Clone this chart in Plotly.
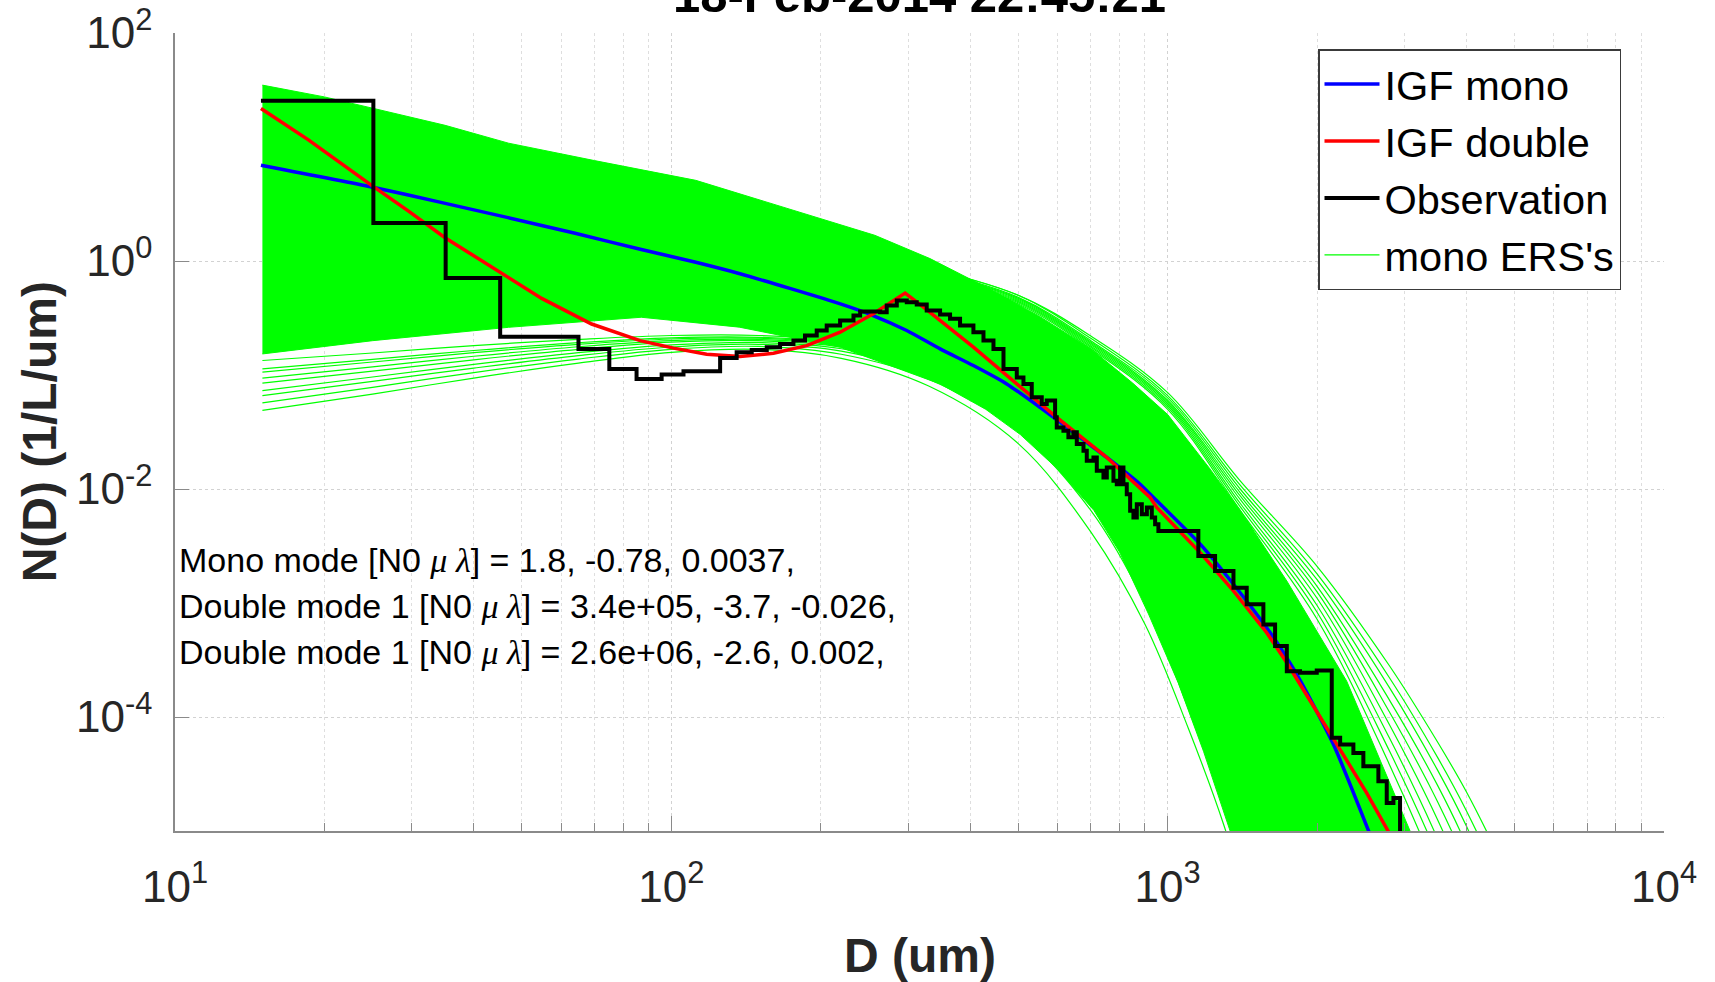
import plotly.graph_objects as go

FONT = "Liberation Sans, Arial, Helvetica, sans-serif"
GREEN = "#00ff00"

# ---------------- data ----------------
# IGF mono fit (blue)
mono_D = [14.9, 24.9, 34.5, 46.9, 64, 87, 112, 137.5, 219, 255, 298, 348, 406, 474, 553, 646,
          754, 880, 951, 1163, 1357, 1583, 1738, 1849, 2158, 2557]
mono_N = [6.92, 4.46, 3.25, 2.4, 1.75, 1.26, 0.975, 0.773, 0.421, 0.3325, 0.2455, 0.1694, 0.121,
          0.0835, 0.052, 0.0314, 0.0189, 0.011, 0.00787, 0.00328, 0.00146, 6.07e-4, 3.3e-4,
          2.1e-4, 5.73e-5, 9.3e-6]

# IGF double fit (red)
double_D = [14.9, 18.6, 24.9, 29.5, 35, 45.2, 54.8, 69.1, 86.5, 101, 117.8, 137.5, 160.6, 187.4,
            218.8, 255.3, 280.2, 295.8, 322, 406.1, 496.6, 597.8, 754.2, 921.7, 950.6, 1162.6,
            1357, 1583, 1738, 1849, 2158, 2518.6, 2806]
double_N = [21.8, 11.5, 4.6, 2.75, 1.6, 0.8, 0.47, 0.28, 0.2, 0.172, 0.152, 0.145, 0.155, 0.181,
            0.2374, 0.344, 0.45, 0.5226, 0.3937, 0.1753, 0.0835, 0.0425, 0.0189, 0.00842, 0.00689,
            0.00277, 0.001275, 5.49e-4, 2.99e-4, 1.93e-4, 6.56e-5, 2.15e-5, 9.3e-6]

# Observation (black stairs): bin left edges and values
obs_D = [14.9, 25.1, 35.1, 45.2, 65, 75, 85.1, 95.6, 105.8, 125.4, 135.4, 145.2, 155.7, 165.6,
         176.2, 185.9, 196.3, 205.6, 218.8, 232.8, 240.1, 263.4, 271.6, 284.6, 298.1, 312.2,
         327.0, 347.9, 364.4, 381.7, 406.1, 425.5, 445.7, 466.9, 496.6, 512.2, 532.3, 557.6,
         570.7, 593.2, 597.8, 616.6, 631, 645.8, 656, 676.7, 687.1, 708.7, 719.8, 742.4, 754,
         777.6, 789.7, 802, 814.5, 827.2, 840.2, 853.2, 866.6, 887, 908, 929, 943.5, 957.9,
         1153, 1246, 1357, 1443, 1559, 1646, 1738, 1848, 1997, 2141, 2226, 2367, 2479, 2658,
         2763, 2850, 2939]
obs_N = [25.4, 2.15, 0.708, 0.217, 0.169, 0.113, 0.0923, 0.1008, 0.1078, 0.1413, 0.1584, 0.1661,
         0.1753, 0.1875, 0.2006, 0.2219, 0.2455, 0.2716, 0.3006, 0.3325, 0.3606, 0.3557, 0.4072,
         0.4504, 0.4356, 0.4155, 0.368, 0.3394, 0.3109, 0.2716, 0.2374, 0.2006, 0.1694, 0.1131,
         0.095, 0.0835, 0.0637, 0.0557, 0.0596, 0.0425, 0.0347, 0.0325, 0.0284, 0.0314, 0.0248,
         0.02166, 0.0177, 0.0189, 0.01445, 0.01263, 0.01546, 0.0118, 0.01103, 0.01546, 0.01103,
         0.00901, 0.00643, 0.00562, 0.00736, 0.00601, 0.00688, 0.00562, 0.00491, 0.00429,
         0.00259, 0.00191, 0.00136, 0.000973, 0.000649, 0.000419, 0.000252, 0.000244, 0.000256,
         6.56e-5, 5.73e-5, 4.84e-5, 3.7e-5, 2.73e-5, 1.76e-5, 1.95e-5, 1e-6]

# mono ERS's: dense core of the ensemble (upper and lower edges)
ers_up_D = [15, 20, 25, 35, 47, 70, 112, 170, 257, 332, 427, 550, 700, 850, 1000, 1217, 1400,
            1738, 2295, 3079, 3800]
ers_up_N = [34.9, 27.5, 21.9, 15.5, 10.8, 7.6, 5.1, 2.9, 1.68, 1.05, 0.6, 0.33, 0.17, 0.085, 0.045,
            0.015, 0.0065, 0.00156, 2.06e-4, 1e-5, 1e-6]
ers_lo_D = [15, 25, 47, 87, 137, 219, 348, 430, 505, 600, 710, 800, 915, 1050, 1181, 1336, 1450]
ers_lo_N = [0.153, 0.2, 0.262, 0.321, 0.263, 0.175, 0.0835, 0.05, 0.03, 0.015, 0.0065, 0.0028,
            8e-4, 2e-4, 5e-5, 1e-5, 1e-6]

# mono ERS's: separate members at the lower-left edge
ers_fan_D = [15, 25, 40, 65, 100, 150, 220, 330, 500, 700, 900, 1100, 1300, 1500]
ers_fan = [
    [0.049, 0.068, 0.094, 0.127, 0.158, 0.168, 0.14, 0.08, 0.025, 0.0042, 6.5e-4, 8e-5, 1.1e-5, 1.3e-6],
    [0.057, 0.078, 0.105, 0.138, 0.168, 0.178, 0.152, 0.092, 0.032, 0.0065, 1.0e-3, 1.2e-4, 1.6e-5, 2e-6],
    [0.066, 0.088, 0.115, 0.148, 0.176, 0.186, 0.162, 0.1, 0.036, 0.008, 1.3e-3, 1.6e-4, 2e-5, 2.5e-6],
    [0.073, 0.096, 0.124, 0.157, 0.184, 0.193, 0.17, 0.108, 0.04, 0.0095, 1.6e-3, 2e-4, 2.5e-5, 3e-6],
    [0.085, 0.108, 0.136, 0.168, 0.194, 0.2, 0.176, 0.114, 0.044, 0.011, 2e-3, 2.6e-4, 3e-5, 4e-6],
    [0.094, 0.118, 0.146, 0.177, 0.2, 0.205, 0.182, 0.12, 0.048, 0.0125, 2.4e-3, 3.2e-4, 4e-5, 5e-6],
    [0.106, 0.13, 0.157, 0.186, 0.207, 0.21, 0.186, 0.125, 0.051, 0.014, 2.8e-3, 4e-4, 5e-5, 6e-6],
    [0.113, 0.137, 0.164, 0.192, 0.212, 0.214, 0.19, 0.13, 0.054, 0.015, 3.1e-3, 4.5e-4, 5.5e-5, 7e-6],
    [0.134, 0.156, 0.181, 0.205, 0.222, 0.222, 0.197, 0.136, 0.058, 0.017, 3.6e-3, 5.5e-4, 7e-5, 9e-6],
]

# mono ERS's: separate members at the large-D tail
ers_tail_D = [300, 500, 700, 1000, 1400, 2000, 2800, 3500, 4000, 4500, 5000]
ers_tail = [
    [0.95, 0.5, 0.22, 0.07, 0.0118, 0.0021, 2.8e-4, 6e-5, 2.2e-5, 8e-6, 3e-6],
    [0.95, 0.5, 0.21, 0.066, 0.0108, 0.0018, 2.2e-4, 4.4e-5, 1.5e-5, 5e-6, 1.5e-6],
    [0.93, 0.48, 0.2, 0.063, 0.01, 0.0016, 1.8e-4, 3.4e-5, 1.1e-5, 3.3e-6, 1e-6],
    [0.92, 0.47, 0.195, 0.06, 0.0093, 0.0014, 1.4e-4, 2.5e-5, 7.5e-6, 2e-6, 5e-7],
    [0.91, 0.46, 0.19, 0.058, 0.0087, 0.00125, 1.1e-4, 1.8e-5, 5e-6, 1.2e-6, 3e-7],
    [0.9, 0.45, 0.185, 0.056, 0.0081, 0.0011, 8.5e-5, 1.25e-5, 3.2e-6, 7e-7, 1.5e-7],
    [0.89, 0.44, 0.18, 0.054, 0.0075, 0.00095, 6.5e-5, 8.5e-6, 2e-6, 4e-7, 8e-8],
    [0.88, 0.43, 0.175, 0.052, 0.007, 0.00083, 5e-5, 6e-6, 1.3e-6, 2.5e-7, 4e-8],
    [0.87, 0.42, 0.17, 0.05, 0.0065, 0.00072, 3.8e-5, 4e-6, 8e-7, 1.4e-7, 2e-8],
]

x_tickvals = [10, 100, 1000, 10000]
x_ticktext = ["10<sup>1</sup>", "10<sup>2</sup>", "10<sup>3</sup>", "10<sup>4</sup>"]
x_minor = [m * 10 ** e for e in (1, 2, 3) for m in range(2, 10)]
y_tickvals = [1e-4, 1e-2, 1, 100]
y_ticktext = ["10<sup>-4</sup>", "10<sup>-2</sup>", "10<sup>0</sup>", "10<sup>2</sup>"]

title_text = "18-Feb-2014 22:45:21"
GREEK = "<span style=\"font-family:'Liberation Serif', 'DejaVu Serif', serif\"><i>μ</i> <i>λ</i></span>"
param_lines = [
    "Mono mode [N0 " + GREEK + "] = 1.8, -0.78, 0.0037,",
    "Double mode 1 [N0 " + GREEK + "] = 3.4e+05, -3.7, -0.026,",
    "Double mode 1 [N0 " + GREEK + "] = 2.6e+06, -2.6, 0.002,",
]

# ---------------- figure ----------------
fig = go.Figure()

fig.add_trace(go.Scatter(
    x=ers_up_D + ers_lo_D[::-1], y=ers_up_N + ers_lo_N[::-1],
    mode="lines", fill="toself", fillcolor=GREEN,
    line=dict(color=GREEN, width=1), showlegend=False, hoverinfo="skip"))

for i, vals in enumerate(ers_fan):
    fig.add_trace(go.Scatter(
        x=ers_fan_D[:len(vals)], y=vals, mode="lines",
        line=dict(color=GREEN, width=1.2, shape="spline", smoothing=1.0),
        name="mono ERS's", showlegend=(i == 0), legendrank=4, hoverinfo="skip"))

for vals in ers_tail:
    fig.add_trace(go.Scatter(
        x=ers_tail_D[:len(vals)], y=vals, mode="lines",
        line=dict(color=GREEN, width=1.2, shape="spline", smoothing=1.0),
        showlegend=False, hoverinfo="skip"))

fig.add_trace(go.Scatter(
    x=mono_D, y=mono_N, mode="lines", name="IGF mono", legendrank=1,
    line=dict(color="#0000ff", width=3.5, shape="spline", smoothing=0.6)))
fig.add_trace(go.Scatter(
    x=double_D, y=double_N, mode="lines", name="IGF double", legendrank=2,
    line=dict(color="#ff0000", width=3.5)))
fig.add_trace(go.Scatter(
    x=obs_D, y=obs_N, mode="lines", name="Observation", legendrank=3,
    line=dict(color="#000000", width=4, shape="hv")))

axis_common = dict(
    type="log", showline=True, linecolor="#8a8a8a", linewidth=1.5, mirror=False,
    ticks="inside", tickcolor="#8a8a8a", tickwidth=1, zeroline=False, automargin=False,
    showgrid=True, gridcolor="#d2d2d2", griddash="dot", gridwidth=1,
    tickfont=dict(family=FONT, size=44, color="#262626"),
)

fig.update_xaxes(
    **axis_common, range=[1, 4], tickvals=x_tickvals, ticktext=x_ticktext, ticklen=15,
    ticklabelstandoff=16,
    minor=dict(tickvals=x_minor, ticks="inside", ticklen=8, tickcolor="#8a8a8a",
               showgrid=True, gridcolor="#dedede", griddash="dot", gridwidth=1),
)
fig.update_yaxes(
    **axis_common, range=[-5, 2], tickvals=y_tickvals, ticktext=y_ticktext, ticklen=14,
    ticklabelstandoff=12,
)

annotations = [
    dict(text="<b>" + title_text + "</b>", x=0.5, y=1.0113, xref="paper", yref="paper",
         xanchor="center", yanchor="bottom", showarrow=False,
         font=dict(family=FONT, size=49, color="#000000")),
    dict(text="<b>D (um)</b>", x=0.5, y=-0.1566, xref="paper", yref="paper",
         xanchor="center", yanchor="middle", showarrow=False,
         font=dict(family=FONT, size=48, color="#262626")),
    dict(text="<b>N(D) (1/L/um)</b>", x=-0.0911, y=0.5, xref="paper", yref="paper",
         xanchor="center", yanchor="middle", textangle=-90, showarrow=False,
         font=dict(family=FONT, size=48, color="#262626")),
]
for k, line in enumerate(param_lines):
    ypix = 560 + 46 * k
    annotations.append(dict(
        text=line, x=(177 - 175) / 1489, y=1 - (ypix - 33) / 798, xref="paper", yref="paper",
        xanchor="left", yanchor="middle", showarrow=False,
        font=dict(family=FONT, size=34, color="#000000")))

fig.update_layout(
    width=1715, height=982,
    margin=dict(l=175, r=51, t=33, b=151, autoexpand=False),
    paper_bgcolor="white", plot_bgcolor="white",
    annotations=annotations,
    showlegend=True,
    legend=dict(x=(1318 - 175) / 1489, y=1 - (49 - 33) / 798, xanchor="left", yanchor="top",
                bgcolor="white", bordercolor="#3a3a3a", borderwidth=1.5,
                font=dict(family=FONT, size=41.5, color="#000000"),
                itemwidth=55, tracegroupgap=0),
)

fig.write_html("out.html")
